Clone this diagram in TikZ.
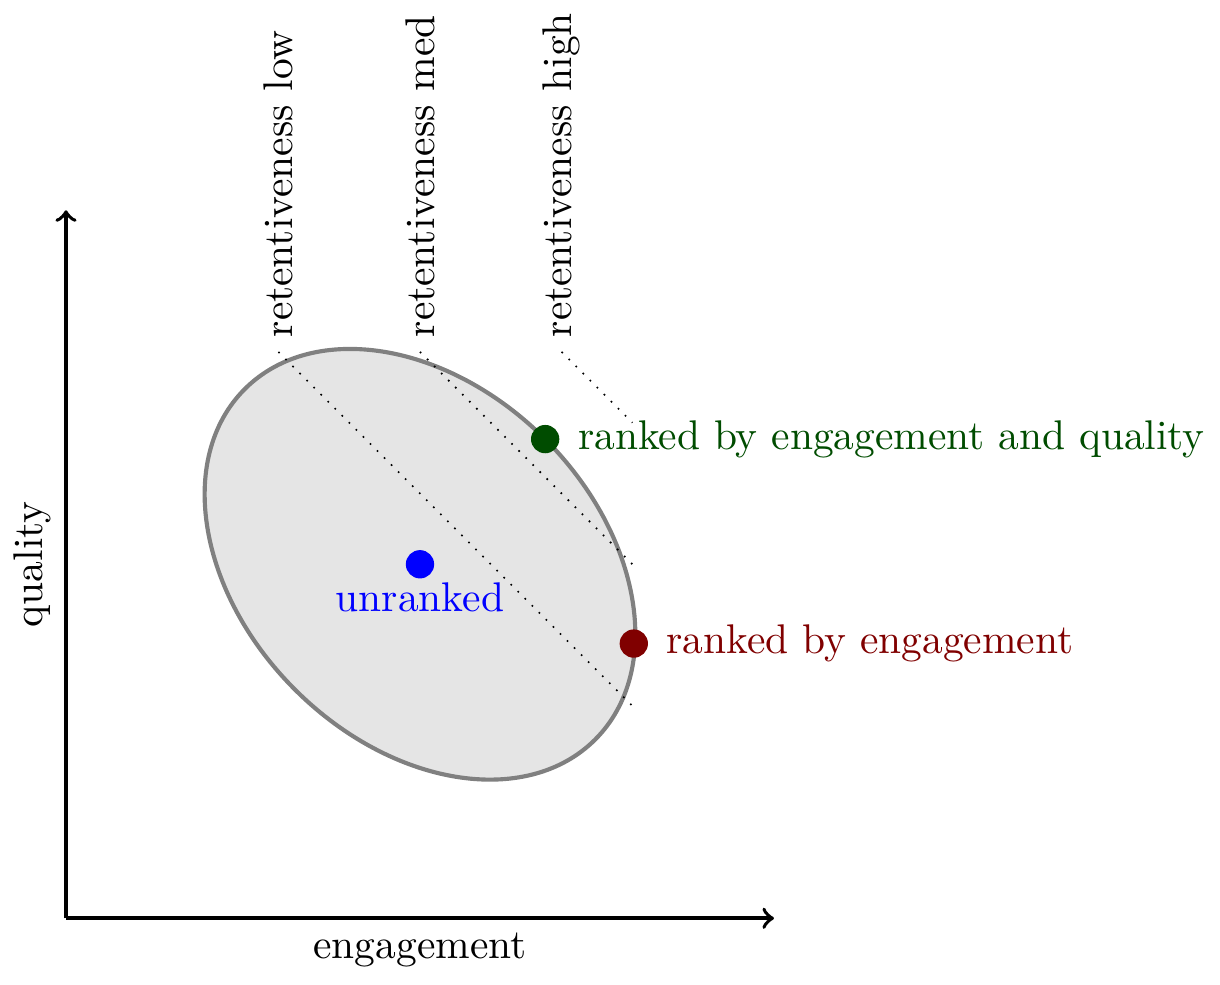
\documentclass[tikz,border=0pt]{standalone}
\usetikzlibrary{calc}
\definecolor{dkgreen}{rgb}{0,0.3,0}
\definecolor{dkred}{rgb}{0.5,0,0}
\begin{document}
\begin{tikzpicture}[x=0.6cm,y=0.6cm,
  axis/.style={line width=0.9pt,->},
  cloud/.style={draw=gray,fill=gray!20,line width=1pt},
  retline/.style={dotted},
  retlabel/.style={rotate=90,anchor=west},
  dot/.style={circle,fill=#1,inner sep=0pt,minimum size=0.24cm},
  ]
\useasboundingbox (-0.932,-0.932) rectangle (16.30,12.97);

% axes
\coordinate (O) at (0,0);
\coordinate (xend) at (10,0);
\coordinate (yend) at (0,10);
\draw[axis] (O) -- (xend);
\draw[axis] (O) -- (yend);
\node[below] (xlab) at (5,0) {engagement};
\node[above,rotate=90] (ylab) at (0,5) {quality};

% spread of items
\draw[cloud] (5,5) ellipse [x radius=3.5, y radius=2.5, rotate=-45];

% iso-retentiveness lines
\coordinate (lowA) at (3,8);  \coordinate (lowB) at (8,3);
\coordinate (medA) at (5,8);  \coordinate (medB) at (8,5);
\coordinate (highA) at (7,8); \coordinate (highB) at (8,7);
\draw[retline] (lowA) -- (lowB);
\draw[retline] (medA) -- (medB);
\draw[retline] (highA) -- (highB);
\node[retlabel] (lowlab) at (lowA) {retentiveness low};
\node[retlabel] (medlab) at (medA) {retentiveness med};
\node[retlabel] (highlab) at (highA) {retentiveness high};

% operating points
\node[dot=blue] (bdot) at (5,5) {};
\node[anchor=north,text=blue] (blab) at ($(bdot.center)+(0,-0.06)$) {unranked};
\node[dot=dkgreen] (gdot) at (6.768,6.768) {};
\node[anchor=west,text=dkgreen] (glab) at ($(gdot.center)+(0.257,0)$) {ranked by engagement and quality};
\node[dot=dkred] (rdot) at (8.02,3.88) {};
\node[anchor=west,text=dkred] (rlab) at ($(rdot.center)+(0.257,0)$) {ranked by engagement};
\end{tikzpicture}
\end{document}
